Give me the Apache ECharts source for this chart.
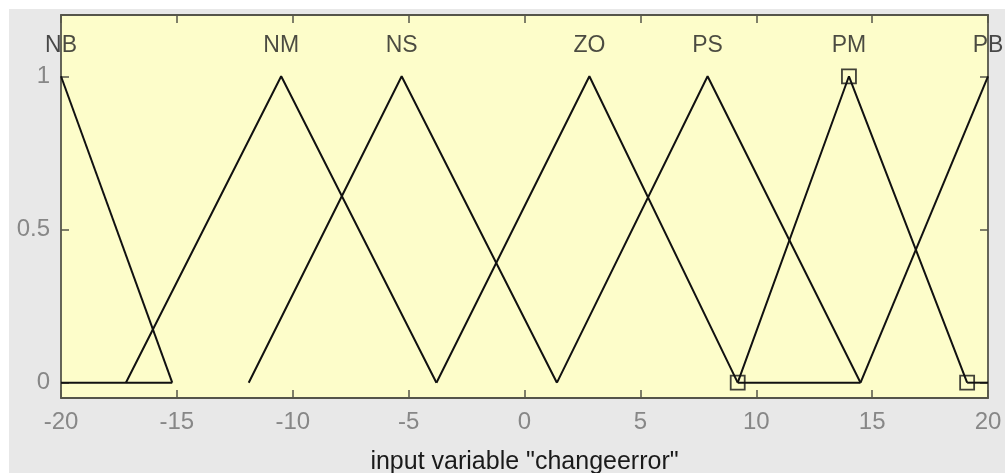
<!DOCTYPE html>
<html>
<head>
<meta charset="utf-8">
<script src="https://cdn.jsdelivr.net/npm/echarts@6/dist/echarts.min.js"></script>
<style>
  html, body { margin: 0; padding: 0; background: #ffffff; }
  #frame { position: absolute; left: 9px; top: 9px; width: 996px; height: 464px; background: #e8e8e8; }
  #chart { position: absolute; left: 0; top: 0; width: 1005px; height: 473px; }
</style>
</head>
<body>
<div id="frame"></div>
<div id="chart"></div>
<script>
// Membership functions of input variable "changeerror" (triangular)
const mfNames      = ['NB', 'NM', 'NS', 'ZO', 'PS', 'PM', 'PB'];
const mfLeftFeet   = [null, -17.2, -11.9, -3.8, 1.4, 9.2, 14.5];
const mfPeaks      = [-20, -10.5, -5.3, 2.8, 7.9, 14.0, 20];
const mfRightFeet  = [-15.2, -3.8, 1.4, 9.2, 14.5, 19.1, null];
// stretches where the drawn curves lie along zero
const zeroSegments = [[-20, -15.2], [9.2, 14.5], [19.1, 20]];
// currently selected function, its vertices carry square handles
const selectedMf = 'PM';
// axis ranges and labelled ticks
const xRange = [-20, 20];
const xStep = 5;
const yRange = [-0.05, 1.2];
const yTicks = [0, 0.5, 1];
const axisTitle = 'input variable "changeerror"';

const FONT = '"Liberation Sans", Arial, sans-serif';
const axisColor = '#55554a';
const curveColor = '#111111';

const series = [];

mfNames.forEach(function (name, i) {
  const pts = [];
  if (mfLeftFeet[i] !== null) pts.push([mfLeftFeet[i], 0]);
  pts.push([mfPeaks[i], 1]);
  if (mfRightFeet[i] !== null) pts.push([mfRightFeet[i], 0]);
  series.push({
    type: 'line', name: name, data: pts, symbol: 'none',
    lineStyle: { color: curveColor, width: 2 }, animation: false, z: 3
  });
});

zeroSegments.forEach(function (seg) {
  series.push({
    type: 'line', data: [[seg[0], 0], [seg[1], 0]], symbol: 'none',
    lineStyle: { color: curveColor, width: 2 }, animation: false, z: 3
  });
});

// names above each peak
series.push({
  type: 'scatter',
  data: mfNames.map(function (n, i) { return { value: [mfPeaks[i], 1], name: n }; }),
  symbolSize: 0,
  silent: true,
  animation: false,
  clip: false,
  label: {
    show: true, position: 'inside', offset: [0, -31],
    formatter: function (p) { return p.name; },
    color: '#1e1e1e', fontSize: 23, fontFamily: FONT
  },
  z: 4
});

// square handles on the selected function's vertices
const si = mfNames.indexOf(selectedMf);
series.push({
  type: 'scatter',
  data: [[mfLeftFeet[si], 0], [mfPeaks[si], 1], [mfRightFeet[si], 0]],
  symbol: 'rect', symbolSize: 14,
  itemStyle: { color: 'rgba(0,0,0,0)', borderColor: curveColor, borderWidth: 1.8 },
  silent: true, animation: false, clip: false, z: 5
});

const tickStyle = { show: true, inside: true, length: 8, lineStyle: { color: axisColor, width: 1.5 } };
const lineStyleAxis = { show: true, onZero: false, lineStyle: { color: axisColor, width: 1.8 } };

const option = {
  backgroundColor: 'transparent',
  animation: false,
  grid: {
    left: 61, top: 15, width: 927, height: 383,
    outerBoundsMode: 'none', containLabel: false,
    show: true, backgroundColor: '#fdfdca', borderWidth: 0
  },
  xAxis: [
    {
      type: 'value', min: xRange[0], max: xRange[1], interval: xStep, position: 'bottom',
      axisLine: lineStyleAxis, axisTick: tickStyle,
      axisLabel: { color: '#878787', fontSize: 24, fontFamily: FONT, margin: 12 },
      splitLine: { show: false },
      name: axisTitle, nameLocation: 'middle', nameGap: 52,
      nameTextStyle: { color: '#1a1a1a', fontSize: 25, fontFamily: FONT }
    },
    {
      type: 'value', min: xRange[0], max: xRange[1], interval: xStep, position: 'top',
      axisLine: lineStyleAxis, axisTick: tickStyle,
      axisLabel: { show: false }, splitLine: { show: false }
    }
  ],
  yAxis: [
    {
      type: 'value', min: yRange[0], max: yRange[1], position: 'left',
      axisLine: lineStyleAxis,
      axisTick: Object.assign({}, tickStyle, { customValues: yTicks }),
      axisLabel: { customValues: yTicks, color: '#878787', fontSize: 24, fontFamily: FONT, margin: 11 },
      splitLine: { show: false }
    },
    {
      type: 'value', min: yRange[0], max: yRange[1], position: 'right',
      axisLine: lineStyleAxis,
      axisTick: Object.assign({}, tickStyle, { customValues: yTicks }),
      axisLabel: { show: false, customValues: yTicks },
      splitLine: { show: false }
    }
  ],
  series: series
};

const chart = echarts.init(document.getElementById('chart'), null, { renderer: 'canvas' });
chart.setOption(option);
</script>
</body>
</html>
